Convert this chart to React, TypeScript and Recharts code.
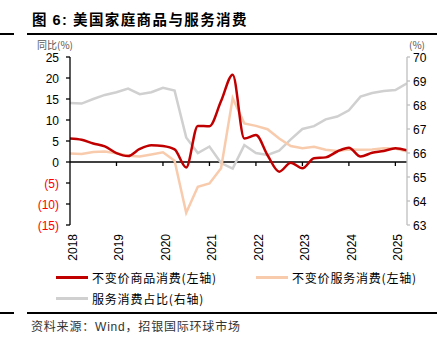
import React from 'react'
import {
  LineChart, Line, XAxis, YAxis, ReferenceLine
} from 'recharts'

// quarterly, 2018Q1 .. 2025Q2
const quarters = [
  '2018Q1', '2018Q2', '2018Q3', '2018Q4', '2019Q1', '2019Q2', '2019Q3', '2019Q4',
  '2020Q1', '2020Q2', '2020Q3', '2020Q4', '2021Q1', '2021Q2', '2021Q3', '2021Q4',
  '2022Q1', '2022Q2', '2022Q3', '2022Q4', '2023Q1', '2023Q2', '2023Q3', '2023Q4',
  '2024Q1', '2024Q2', '2024Q3', '2024Q4', '2025Q1', '2025Q2',
]
const goods = [5.6, 5.3, 4.4, 3.7, 2.1, 1.4, 3.1, 4.0, 3.8, 3.0, -1.3, 8.6, 8.5, 14.5, 20.8,
  5.6, 6.4, 1.6, -2.3, -0.2, -1.5, 0.9, 1.1, 2.5, 3.4, 1.3, 2.2, 2.6, 3.3, 2.8]
const services = [2.0, 1.9, 2.4, 2.5, 2.1, 1.5, 1.3, 1.8, 2.3, 0.3, -12.1, -5.9, -5.1, -1.5, 15.2,
  9.2, 8.6, 7.8, 5.6, 3.8, 3.3, 3.6, 2.9, 2.6, 3.0, 2.9, 3.0, 3.3, 3.2, 2.5]
const share = [68.08, 68.06, 68.25, 68.42, 68.53, 68.68, 68.45, 68.53, 68.72, 68.6, 66.65, 66.0,
  66.27, 65.58, 65.35, 66.33, 66.0, 65.92, 66.1, 66.57, 67.0, 67.12, 67.4, 67.52, 67.78, 68.35,
  68.5, 68.58, 68.62, 68.9]
const years = [2018, 2019, 2020, 2021, 2022, 2023, 2024, 2025]
const leftTicks = [-15, -10, -5, 0, 5, 10, 15, 20, 25]
const rightTicks = [63, 64, 65, 66, 67, 68, 69, 70]

const data = quarters.map((q, i) => ({
  t: Number(q.slice(0, 4)) + (Number(q.slice(5)) - 1) / 4,
  goods: goods[i],
  services: services[i],
  share: share[i],
}))

const RED = '#C00000'
const PEACH = '#F8CBAD'
const GREY = '#D0D0D0'
const NUM_FONT = '"Liberation Sans", Arial, sans-serif'
const CJK_FONT = '"Noto Sans CJK SC", "Liberation Sans", sans-serif'

const LeftTick = ({ x, y, payload }: any) => {
  const v = payload.value
  return (
    <text x={x} y={y} dy={4.5} textAnchor="end" fontSize={12} fontFamily={NUM_FONT}
      fill={v < 0 ? '#FF0000' : '#000'}>
      {v < 0 ? `(${-v})` : v}
    </text>
  )
}

const RightTick = ({ x, y, payload }: any) => (
  <text x={x} y={y} dy={4.5} textAnchor="start" fontSize={12} fontFamily={NUM_FONT} fill="#000">
    {payload.value}
  </text>
)

const YearTick = ({ x, y, payload }: any) => (
  <text x={x + 7} y={y} transform={`rotate(-90, ${x + 7}, ${y})`} textAnchor="end"
    fontSize={12} fontFamily={NUM_FONT} fill="#000">
    {payload.value}
  </text>
)

const rule = (top: number) => (
  <>
    <div style={{ position: 'absolute', left: 0, top, width: 14, height: 2, background: '#000' }} />
    <div style={{ position: 'absolute', left: 27, top, width: 410, height: 2, background: '#000' }} />
  </>
)

const LegendItem = ({ color, label, left, top }: any) => (
  <div style={{ position: 'absolute', left, top, display: 'flex', alignItems: 'center' }}>
    <div style={{ width: 32, height: 3, background: color, marginRight: 4 }} />
    <span style={{ fontSize: 12, fontFamily: CJK_FONT, color: '#000', letterSpacing: 0.8 }}>{label}</span>
  </div>
)

export default function App() {
  return (
    <div style={{ position: 'absolute', left: 0, top: 0, width: 445, height: 347, background: '#fff' }}>
      <div style={{
        position: 'absolute', left: 32, top: 8, fontSize: 14.5, fontWeight: 'bold',
        fontFamily: CJK_FONT, letterSpacing: 1.4, color: '#000', whiteSpace: 'nowrap'
      }}>
        图 <span style={{ fontFamily: NUM_FONT }}>6:</span> 美国家庭商品与服务消费
      </div>
      {rule(33)}
      <div style={{
        position: 'absolute', left: 37, top: 40, fontSize: 10, lineHeight: '10px',
        fontFamily: CJK_FONT, color: '#555'
      }}>
        同比(%)
      </div>
      <div style={{
        position: 'absolute', left: 409, top: 40, fontSize: 10, lineHeight: '10px',
        fontFamily: CJK_FONT, color: '#555'
      }}>
        (%)
      </div>

      <div style={{ position: 'absolute', left: 0, top: 0 }}>
        <LineChart width={445} height={347} data={data}
          margin={{ top: 57, right: 0, bottom: 82, left: 0 }}>
          <XAxis dataKey="t" type="number" domain={[2018, 2025.25]} ticks={years}
            axisLine={false} tickLine={false} tickSize={0} tickMargin={9} height={40}
            tick={<YearTick />} interval={0} allowDataOverflow />
          <YAxis yAxisId="left" orientation="left" domain={[-15, 25]} ticks={leftTicks}
            width={70} axisLine={{ stroke: '#000', strokeWidth: 1.3 }}
            tickLine={{ stroke: '#000', strokeWidth: 1.3 }} tickSize={4} tickMargin={7}
            tick={<LeftTick />} interval={0} />
          <YAxis yAxisId="right" orientation="right" domain={[63, 70]} ticks={rightTicks}
            width={38} axisLine={{ stroke: '#BFBFBF', strokeWidth: 1.3 }}
            tickLine={{ stroke: '#BFBFBF', strokeWidth: 1.3 }} tickSize={3} tickMargin={3}
            tick={<RightTick />} interval={0} />
          <ReferenceLine yAxisId="left" y={0} stroke="#000" strokeWidth={1.5} />
          {years.slice(1).map(yr => (
            <ReferenceLine key={yr} yAxisId="left"
              segment={[{ x: yr, y: 0 }, { x: yr, y: -0.95 }]}
              stroke="#000" strokeWidth={1.3} />
          ))}
          <Line yAxisId="right" dataKey="share" type="linear" stroke={GREY} strokeWidth={2.5}
            dot={false} isAnimationActive={false} />
          <Line yAxisId="left" dataKey="services" type="linear" stroke={PEACH} strokeWidth={2.5}
            dot={false} isAnimationActive={false} />
          <Line yAxisId="left" dataKey="goods" type="monotone" stroke={RED} strokeWidth={2.5}
            dot={false} isAnimationActive={false} />
        </LineChart>
      </div>

      <LegendItem color={RED} label="不变价商品消费(左轴)" left={56} top={269} />
      <LegendItem color={PEACH} label="不变价服务消费(左轴)" left={256} top={269} />
      <LegendItem color={GREY} label="服务消费占比(右轴)" left={56} top={290} />

      {rule(312)}
      <div style={{
        position: 'absolute', left: 31, top: 317, fontSize: 12, fontFamily: CJK_FONT,
        color: '#333', letterSpacing: 0.8, whiteSpace: 'nowrap'
      }}>
        资料来源：<span style={{ fontFamily: NUM_FONT }}>Wind</span>，招银国际环球市场
      </div>
    </div>
  )
}
